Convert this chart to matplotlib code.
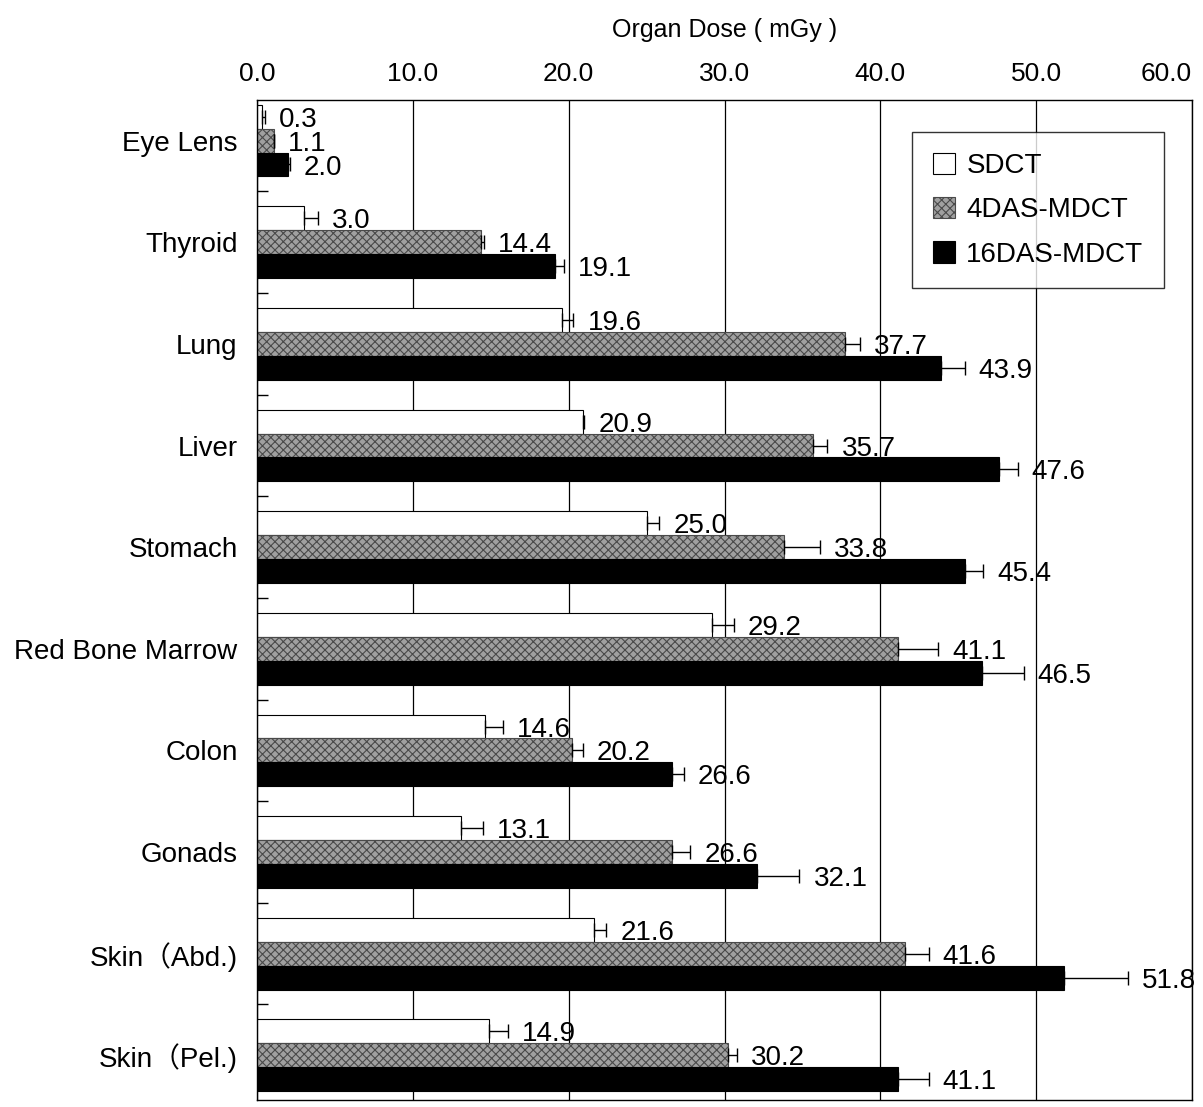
import numpy as np
import matplotlib
matplotlib.use('Agg')
import matplotlib.pyplot as plt

plt.rcParams['font.family'] = ['Liberation Sans', 'Noto Sans CJK JP', 'DejaVu Sans']
plt.rcParams['hatch.linewidth'] = 0.8

organs = ['Eye Lens', 'Thyroid', 'Lung', 'Liver', 'Stomach', 'Red Bone Marrow',
          'Colon', 'Gonads', 'Skin（Abd.)', 'Skin（Pel.)']
series = ['SDCT', '4DAS-MDCT', '16DAS-MDCT']

sdct = [0.3, 3.0, 19.6, 20.9, 25.0, 29.2, 14.6, 13.1, 21.6, 14.9]
das4 = [1.1, 14.4, 37.7, 35.7, 33.8, 41.1, 20.2, 26.6, 41.6, 30.2]
das16 = [2.0, 19.1, 43.9, 47.6, 45.4, 46.5, 26.6, 32.1, 51.8, 41.1]

sdct_err = [0.2, 0.9, 0.7, 0.1, 0.8, 1.4, 1.2, 1.4, 0.8, 1.2]
das4_err = [0.0, 0.15, 1.0, 0.9, 2.3, 2.6, 0.7, 1.2, 1.5, 0.6]
das16_err = [0.1, 0.6, 1.5, 1.2, 1.2, 2.7, 0.8, 2.7, 4.1, 2.0]

values = [sdct, das4, das16]
errors = [sdct_err, das4_err, das16_err]
styles = [dict(facecolor='white', edgecolor='black', hatch=None),
          dict(facecolor='#a0a0a0', edgecolor='#4a4a4a', hatch='xxxx'),
          dict(facecolor='black', edgecolor='black', hatch=None)]

fig = plt.figure(figsize=(12.03, 11.07), dpi=100)
ax = fig.add_axes([0.2136, 0.0063, 0.7774, 0.9034])

y = np.arange(len(organs))
h = 0.235
offsets = [-h, 0, h]

for k in range(3):
    ypos = y + offsets[k]
    ax.barh(ypos, values[k], height=h, linewidth=0.8, label=series[k], **styles[k])
    err = np.array(errors[k])
    ax.errorbar(values[k], ypos, xerr=[np.zeros_like(err), err], fmt='none',
                ecolor='black', elinewidth=1, capsize=5, capthick=1)
    for v, e, yy in zip(values[k], err, ypos):
        ax.text(v + e + 0.9, yy + 0.03, f'{v:.1f}', fontsize=20,
                va='center', ha='left')

ax.set_xlim(0, 60)
ax.set_ylim(9.44, -0.4)
ax.xaxis.tick_top()
ax.xaxis.set_label_position('top')
ticks = np.arange(0, 61, 10)
ax.set_xticks(ticks)
ax.set_xticklabels([f'{t:.1f}' for t in ticks], fontsize=19)
ax.get_xticklabels()[-1].set_horizontalalignment('right')
ax.tick_params(axis='x', length=0, pad=10)
ax.set_xlabel('Organ Dose ( mGy )', fontsize=18, labelpad=18)
ax.xaxis.grid(True, color='black', linewidth=0.9)
ax.set_axisbelow(True)

# category boundaries as major ticks, names as minor ticks
ax.set_yticks(np.arange(0.5, len(organs) - 1, 1.0))
ax.set_yticklabels([])
ax.tick_params(axis='y', which='major', direction='in', length=8, width=1)
ax.set_yticks(y, minor=True)
ax.set_yticklabels(organs, minor=True, fontsize=20)
ax.tick_params(axis='y', which='minor', length=0, pad=14)

for s in ax.spines.values():
    s.set_linewidth(1)

leg = ax.legend(loc='upper right', bbox_to_anchor=(0.985, 0.982), fontsize=20,
                frameon=True, fancybox=False, edgecolor='black',
                handlelength=0.8, handleheight=0.8, handletextpad=0.4,
                labelspacing=0.65, borderpad=0.75)
leg.get_frame().set_linewidth(1)

fig.savefig('out.png', dpi=100)
